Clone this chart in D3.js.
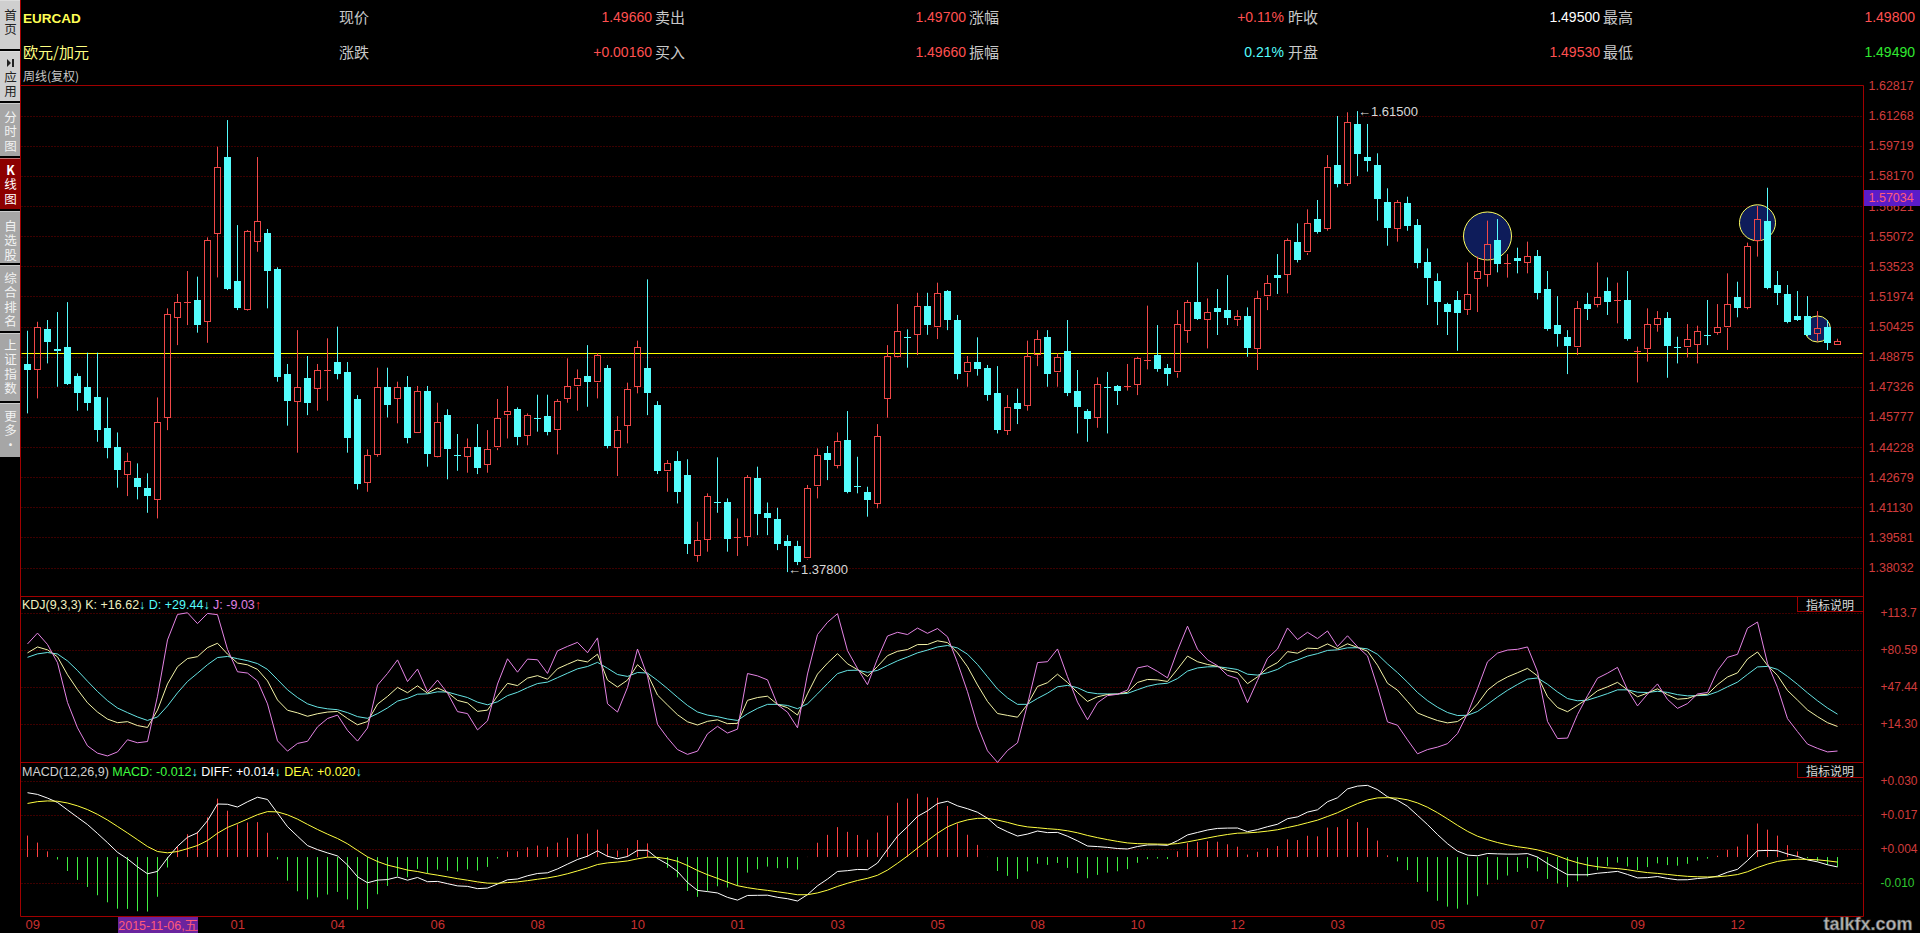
<!DOCTYPE html>
<html><head><meta charset="utf-8">
<script src="https://cdn.jsdelivr.net/npm/d3@7"></script>
<style>
html,body{margin:0;padding:0;background:#000;overflow:hidden}
svg{display:block}
.num{font-family:"Liberation Sans",Arial,sans-serif}
.cjk{font-family:"Noto Sans CJK SC",sans-serif}
</style></head><body>
<svg id="c" width="1920" height="933"></svg>
<script>
// ---------------- data: weekly EURCAD candles ----------------
const open=[
1.4850,1.4822,1.5028,1.4927,1.4935,1.4788,1.4731,1.4678,1.4519,1.4421,
1.4282,1.4262,1.4212,1.4154,1.4575,1.5090,1.5162,1.5179,1.5069,1.5521,
1.5914,1.5276,1.5131,1.5480,1.5525,1.5338,1.4798,1.4661,1.4779,1.4725,
1.4814,1.4860,1.4809,1.4671,1.4245,1.4385,1.4731,1.4673,1.4731,1.4502,
1.4711,1.4375,1.4587,1.4380,1.4377,1.4423,1.4336,1.4425,1.4591,1.4617,
1.4485,1.4570,1.4582,1.4514,1.4673,1.4738,1.4788,1.4759,1.4827,1.4425,
1.4536,1.4737,
1.4831,1.4639,1.4301,1.4351,1.4279,1.3868,1.3948,1.4138,1.4140,1.3955,
1.3965,1.4262,1.4082,1.4053,1.3941,1.3914,1.3854,1.4224,1.4390,1.4334,
1.4459,1.4222,1.4192,1.4133,1.4673,1.4893,1.4988,1.5002,1.5148,1.5042,
1.5227,1.5076,1.4810,1.4860,1.4831,1.4702,1.4514,1.4651,1.4639,1.4901,
1.4988,1.4810,1.4918,1.4711,1.4608,1.4575,1.4733,1.4737,1.4733,1.4750,
1.4863,1.4894,1.4831,1.4810,1.5024,1.5168,1.5079,1.5136,1.5127,1.5079,
1.5096,1.4930,1.5201,1.5307,1.5312,1.5475,1.5427,1.5595,1.5547,1.5873,
1.5779,1.6084,1.5914,1.5873,1.5681,1.5547,1.5676,1.5564,1.5372,1.5276,
1.5158,1.5179,1.5131,1.5290,1.5312,1.5487,1.5360,1.5393,1.5372,1.5405,
1.5234,1.5050,1.4987,1.4939,1.5158,1.5162,1.5225,1.5172,1.5179,1.4911,
1.4930,1.5054,1.5084,1.4935,1.4939,1.4951,1.5000,1.5012,1.5042,1.5196,
1.5141,1.5487,1.5585,1.5256,1.5210,1.5096,1.5096,1.5012,1.5042,1.4953];
const high=[
1.5021,1.5067,1.5076,1.5117,1.5168,1.4802,1.4908,1.4908,1.4678,1.4498,
1.4394,1.4339,1.4288,1.4678,1.5136,1.5210,1.5328,1.5299,1.5501,1.5967,
1.6104,1.5564,1.5539,1.5914,1.5544,1.5347,1.4850,1.5024,1.4891,1.4850,
1.4982,1.5042,1.4860,1.4690,1.4411,1.4831,1.4831,1.4759,1.4788,1.4737,
1.4737,1.4651,1.4617,1.4490,1.4467,1.4541,1.4510,1.4670,1.4737,1.4627,
1.4596,1.4692,1.4692,1.4670,1.4879,1.4822,1.4947,1.4905,1.4845,1.4582,
1.4754,1.4970,
1.5285,1.4659,1.4356,1.4402,1.4360,1.4039,1.4185,1.4370,1.4159,1.4056,
1.4279,1.4322,1.4138,1.4111,1.3970,1.3941,1.4228,1.4416,1.4428,1.4498,
1.4608,1.4373,1.4219,1.4541,1.4947,1.5158,1.5028,1.5216,1.5216,1.5268,
1.5230,1.5102,1.4891,1.4987,1.4845,1.4839,1.4690,1.4723,1.4970,1.5024,
1.5024,1.4905,1.5076,1.4819,1.4618,1.4781,1.4809,1.4742,1.4850,1.4887,
1.5150,1.5050,1.4850,1.5127,1.5179,1.5372,1.5187,1.5235,1.5307,1.5127,
1.5141,1.5227,1.5307,1.5415,1.5496,1.5573,1.5645,1.5693,1.5924,1.6125,
1.6144,1.6150,1.6084,1.5933,1.5753,1.5693,1.5710,1.5595,1.5444,1.5316,
1.5165,1.5225,1.5372,1.5402,1.5587,1.5595,1.5415,1.5448,1.5479,1.5436,
1.5328,1.5199,1.5024,1.5174,1.5216,1.5372,1.5295,1.5268,1.5328,1.4939,
1.5136,1.5122,1.5117,1.4990,1.5055,1.5047,1.5179,1.5158,1.5316,1.5273,
1.5474,1.5662,1.5756,1.5328,1.5256,1.5225,1.5199,1.5122,1.5076,1.4980];
const low=[
1.4596,1.4673,1.4853,1.4733,1.4742,1.4610,1.4610,1.4450,1.4365,1.4214,
1.4171,1.4154,1.4085,1.4056,1.4510,1.4947,1.5050,1.5011,1.4959,1.5295,
1.5230,1.5127,1.5124,1.5427,1.5136,1.4759,1.4533,1.4394,1.4587,1.4610,
1.4661,1.4771,1.4394,1.4205,1.4193,1.4373,1.4575,1.4545,1.4442,1.4498,
1.4322,1.4370,1.4257,1.4301,1.4291,1.4284,1.4291,1.4407,1.4467,1.4432,
1.4432,1.4502,1.4483,1.4385,1.4651,1.4610,1.4630,1.4673,1.4416,1.4274,
1.4442,1.4699,
1.4587,1.4284,1.4193,1.4133,1.3873,1.3833,1.3885,1.4085,1.3885,1.3863,
1.3914,1.3970,1.3970,1.3893,1.3780,1.3816,1.3845,1.4159,1.4253,1.4313,
1.4185,1.4185,1.4065,1.4108,1.4574,1.4884,1.4831,1.4896,1.5000,1.4978,
1.5024,1.4771,1.4733,1.4790,1.4661,1.4493,1.4485,1.4541,1.4610,1.4839,
1.4733,1.4733,1.4685,1.4493,1.4450,1.4522,1.4493,1.4639,1.4713,1.4690,
1.4822,1.4810,1.4738,1.4779,1.4959,1.5076,1.4930,1.4999,1.5050,1.5045,
1.4887,1.4819,1.5127,1.5210,1.5213,1.5372,1.5410,1.5520,1.5535,1.5758,
1.5765,1.5816,1.5839,1.5587,1.5458,1.5479,1.5535,1.5342,1.5153,1.5050,
1.4999,1.4918,1.5102,1.5117,1.5247,1.5321,1.5294,1.5316,1.5316,1.5182,
1.5021,1.4939,1.4798,1.4896,1.5076,1.5141,1.5102,1.5059,1.4970,1.4755,
1.4862,1.5016,1.4779,1.4853,1.4884,1.4853,1.4947,1.5000,1.4922,1.5090,
1.5131,1.5402,1.5234,1.5153,1.5059,1.5071,1.4994,1.4965,1.4922,1.4949];
const close=[
1.4819,1.5038,1.4959,1.4918,1.4747,1.4702,1.4651,1.4510,1.4414,1.4301,
1.4351,1.4214,1.4171,1.4551,1.5105,1.5168,1.5168,1.5050,1.5487,1.5861,
1.5235,1.5138,1.5533,1.5585,1.5330,1.4781,1.4661,1.4731,1.4651,1.4819,
1.4819,1.4798,1.4471,1.4233,1.4382,1.4731,1.4641,1.4731,1.4471,1.4711,
1.4385,1.4551,1.4414,1.4377,1.4423,1.4313,1.4411,1.4570,1.4608,1.4471,
1.4587,1.4565,1.4502,1.4658,1.4737,1.4776,1.4759,1.4894,1.4425,1.4510,
1.4719,1.4935,
1.4702,1.4301,1.4339,1.4193,1.3924,1.3945,1.4171,1.4133,1.3948,1.3960,
1.4270,1.4077,1.4056,1.3924,1.3916,1.3833,1.4210,1.4380,1.4353,1.4456,
1.4193,1.4216,1.4150,1.4479,1.4891,1.5019,1.4985,1.5148,1.5050,1.5213,
1.5076,1.4798,1.4858,1.4822,1.4690,1.4510,1.4630,1.4620,1.4893,1.4978,
1.4798,1.4884,1.4702,1.4630,1.4565,1.4745,1.4730,1.4713,1.4738,1.4882,
1.4868,1.4822,1.4798,1.5054,1.5168,1.5079,1.5117,1.5117,1.5088,1.5096,
1.4930,1.5187,1.5264,1.5290,1.5487,1.5384,1.5573,1.5527,1.5861,1.5775,
1.6092,1.5928,1.5895,1.5696,1.5547,1.5681,1.5556,1.5371,1.5288,1.5170,
1.5119,1.5110,1.5208,1.5328,1.5467,1.5362,1.5367,1.5376,1.5405,1.5216,
1.5030,1.5002,1.4939,1.5136,1.5131,1.5196,1.5170,1.5179,1.4978,1.4918,
1.5054,1.5084,1.4939,1.4930,1.4977,1.5019,1.4997,1.5038,1.5156,1.5141,
1.5456,1.5593,1.5239,1.5213,1.5067,1.5076,1.4999,1.5036,1.4961,1.4966];

// KDJ(9,3,3) values
const kLine=[78.0,83.3,80.7,74.4,58.4,45.1,33.3,25.0,18.7,15.5,
16.4,12.9,11.2,26.8,50.2,65.6,72.9,74.6,82.7,86.6,
76.9,68.9,67.3,63.2,52.9,35.8,26.6,24.3,21.2,23.5,
25.0,25.5,19.2,13.6,16.5,32.1,39.0,47.1,42.3,48.5,
41.9,46.6,42.6,35.4,33.2,25.6,26.7,39.5,50.7,48.7,
55.4,57.6,54.4,63.8,67.8,71.6,69.9,76.8,53.6,47.4,
53.6,67.4,59.0,40.2,31.3,22.6,16.3,13.4,16.7,18.0,
14.6,14.9,35.5,38.0,39.2,31.8,28.9,22.3,41.3,59.0,
68.8,77.3,68.2,63.0,56.9,65.8,75.5,79.4,81.0,85.4,
85.5,88.8,87.2,78.0,65.6,49.3,34.5,23.7,22.0,20.4,
31.9,47.9,51.3,58.9,51.5,42.5,34.5,38.7,40.7,41.1,
42.7,51.5,54.2,53.8,52.4,63.4,75.1,70.1,67.6,65.9,
62.3,60.4,50.4,56.5,64.5,69.3,79.1,77.7,82.2,81.8,
86.0,81.7,86.1,82.9,79.5,66.9,50.8,44.6,34.5,24.2,
20.6,17.4,15.3,16.5,22.6,32.3,44.6,51.6,56.5,60.2,
64.1,57.4,38.8,29.1,25.3,31.0,37.0,44.1,47.6,51.6,
44.9,38.7,42.0,45.8,40.5,36.5,37.2,40.2,40.9,49.5,
56.4,60.1,72.5,78.8,66.8,57.8,44.3,35.7,26.9,20.9,
15.5,12.1];
const dLine=[74.0,77.1,78.3,77.0,70.8,62.2,52.6,43.4,35.2,28.6,
24.5,20.6,17.5,20.6,30.5,42.2,52.4,59.8,67.4,73.8,
74.8,72.8,71.0,68.4,63.2,54.1,44.9,38.0,32.4,29.4,
27.9,27.1,24.5,20.9,19.4,23.6,28.7,34.8,37.3,41.0,
41.3,43.1,42.9,40.4,38.0,33.9,31.5,34.2,39.7,42.7,
46.9,50.5,51.8,55.8,59.8,63.7,65.8,69.5,64.2,58.6,
56.9,60.4,59.9,53.3,46.0,38.2,30.9,25.1,22.3,20.9,
18.8,17.5,23.5,28.3,31.9,31.9,30.9,28.0,32.4,41.3,
50.5,59.4,62.3,62.5,60.6,62.3,66.7,70.9,74.3,78.0,
80.5,83.3,84.6,82.4,76.8,67.6,56.6,45.6,37.7,31.9,
31.9,37.2,41.9,47.6,48.9,46.8,42.7,41.4,41.2,41.2,
41.7,45.0,48.1,50.0,50.8,55.0,61.7,64.5,65.5,65.6,
64.5,63.1,58.9,58.1,60.2,63.2,68.5,71.6,75.1,77.3,
80.2,80.7,82.5,82.6,81.6,76.7,68.1,60.3,51.7,42.5,
35.2,29.3,24.6,21.9,22.1,25.5,31.9,38.5,44.5,49.7,
54.5,55.5,49.9,43.0,37.1,35.1,35.7,38.5,41.5,44.9,
44.9,42.8,42.5,43.6,42.6,40.6,39.5,39.7,40.1,43.2,
47.6,51.8,58.7,65.4,65.9,63.2,56.9,49.8,42.2,35.1,
28.6,23.1];
const jLine=[86.0,95.7,85.5,69.2,33.6,10.9,-5.3,-11.8,-14.3,-10.7,
0.2,-2.5,-1.4,39.2,89.6,112.4,113.9,104.2,113.3,112.2,
81.1,61.1,59.9,52.8,32.3,-0.8,-10.0,-3.1,-1.2,11.7,
19.2,22.3,8.6,-1.0,10.7,49.1,59.6,71.7,52.3,63.5,
43.1,53.6,42.0,25.4,23.6,9.0,17.1,50.1,72.7,60.7,
72.4,71.8,59.6,79.8,83.8,87.4,78.1,91.4,32.4,25.0,
47.0,81.4,57.2,14.0,1.9,-8.6,-12.9,-10.0,5.5,12.2,
6.2,9.7,59.5,57.4,53.8,31.6,24.9,10.9,59.1,94.4,
105.4,113.1,80.0,64.0,49.5,72.8,93.1,96.4,94.4,100.2,
95.5,99.8,92.4,69.2,43.2,12.7,-9.7,-20.1,-9.4,-2.6,
31.9,69.3,70.1,81.5,56.7,33.9,18.1,33.3,39.7,40.9,
44.7,64.5,66.4,61.4,55.6,80.2,101.9,81.3,71.8,66.5,
57.9,55.0,33.4,53.3,73.1,81.5,100.3,89.9,96.4,90.8,
97.6,83.7,93.3,83.5,75.3,47.3,16.2,13.2,0.1,-12.4,
-8.6,-6.4,-3.3,5.7,23.6,45.9,70.0,77.8,80.5,81.2,
83.3,61.2,16.6,1.3,1.7,22.8,39.6,55.3,59.8,65.0,
44.9,30.5,41.0,50.2,36.3,28.3,32.6,41.2,42.5,62.1,
74.0,76.7,100.1,105.6,68.6,47.0,19.1,7.5,-3.7,-7.5,
-10.7,-9.9];

// MACD(12,26,9) values in pips (1 pip = 0.0001)
const diffPips=[252.8,246.1,231.7,214.5,185.0,156.2,127.7,92.7,56.6,18.7,
-7.2,-38.4,-65.8,-56.3,-3.9,42.2,77.8,95.3,142.9,208.4,
207.4,196.5,217.2,235.1,226.2,172.8,119.4,81.8,45.1,29.2,
16.3,4.4,-31.1,-77.5,-101.1,-90.6,-88.5,-78.7,-90.9,-80.2,
-96.9,-95.7,-104.6,-113.3,-115.2,-124.1,-121.9,-106.1,-89.4,-86.2,
-73.6,-64.6,-61.9,-46.6,-27.8,-9.6,3.4,24.4,3.1,-6.8,
2.2,26.4,26.5,-5.8,-27.9,-56.6,-99.9,-131.0,-135.8,-141.1,
-158.4,-169.2,-150.9,-150.3,-149.8,-158.3,-163.7,-172.7,-147.7,-112.9,
-86.5,-56.6,-53.5,-48.7,-49.6,-23.5,30.1,82.0,119.0,159.6,
181.8,210.1,219.0,201.3,189.9,176.0,152.5,118.0,99.2,82.5,
90.3,102.2,96.0,96.9,81.9,63.6,43.3,41.2,37.9,33.5,
31.7,41.4,47.5,48.0,46.0,64.3,87.0,96.7,106.3,112.5,
113.8,114.1,99.8,107.9,119.3,128.9,150.7,157.8,176.6,185.7,
217.4,232.9,267.7,278.8,281.7,264.9,236.8,222.8,199.3,163.8,
127.6,88.3,52.5,23.1,7.6,5.0,14.0,12.5,11.6,11.5,
13.6,0.0,-25.5,-47.5,-69.2,-69.7,-69.7,-63.7,-60.3,-56.2,
-68.4,-82.0,-80.8,-76.6,-84.0,-89.5,-89.1,-84.4,-81.5,-75.0,
-59.7,-48.2,-13.5,24.7,26.1,24.9,12.0,2.4,-11.2,-18.8,
-30.5,-38.9];
const deaPips=[210.6,217.7,220.5,219.3,212.4,201.2,186.5,167.7,145.5,120.2,
94.6,68.1,41.3,21.8,16.6,21.7,32.9,45.4,64.9,93.6,
116.3,132.3,149.3,166.5,178.5,177.4,165.8,149.0,128.2,108.4,
90.0,72.9,52.1,26.2,0.8,-17.5,-31.7,-41.1,-51.1,-56.9,
-64.9,-71.1,-77.8,-84.9,-91.0,-97.6,-102.5,-103.2,-100.4,-97.6,
-92.8,-87.2,-82.1,-75.0,-65.6,-54.4,-42.8,-29.4,-22.9,-19.7,
-15.3,-7.0,-0.3,-1.4,-6.7,-16.7,-33.3,-52.8,-69.4,-83.7,
-98.6,-112.7,-120.3,-126.3,-131.0,-136.5,-141.9,-148.1,-148.0,-141.0,
-130.1,-115.4,-103.0,-92.1,-83.6,-71.6,-51.3,-24.6,4.1,35.2,
64.5,93.6,118.7,135.2,146.1,152.1,152.2,145.4,136.2,125.5,
118.5,115.2,111.4,108.5,103.2,95.3,84.9,76.2,68.5,61.5,
55.5,52.7,51.7,51.0,50.0,52.9,59.7,67.1,74.9,82.4,
88.7,93.8,95.0,97.6,101.9,107.3,116.0,124.4,134.8,145.0,
159.5,174.2,192.9,210.1,224.4,232.5,233.4,231.3,224.9,212.7,
195.7,174.2,149.9,124.5,101.1,81.9,68.3,57.1,48.0,40.7,
35.3,28.2,17.5,4.5,-10.2,-22.1,-31.6,-38.0,-42.5,-45.2,
-49.8,-56.2,-61.1,-64.2,-68.2,-72.5,-75.8,-77.5,-78.3,-77.6,
-74.0,-68.8,-57.7,-41.2,-27.7,-17.2,-11.4,-8.6,-9.1,-11.0,
-14.9,-19.7];
const macdPips=[84.4,56.8,22.4,-9.6,-54.8,-89.9,-117.6,-150.1,-177.9,-202.9,
-203.7,-213.0,-214.2,-156.1,-41.0,41.0,89.7,99.8,155.9,229.6,
182.1,128.3,135.8,137.2,95.4,-9.2,-92.8,-134.4,-166.2,-158.4,
-147.4,-137.0,-166.4,-207.4,-203.8,-146.2,-113.6,-75.2,-79.6,-46.6,
-64.0,-49.2,-53.6,-56.8,-48.4,-53.0,-38.8,-5.8,22.0,22.8,
38.4,45.2,40.4,56.8,75.6,89.6,92.4,107.6,52.0,25.8,
35.0,66.8,53.6,-8.8,-42.4,-79.8,-133.2,-156.4,-132.8,-114.8,
-119.6,-113.0,-61.2,-48.0,-37.6,-43.6,-43.6,-49.2,0.6,56.2,
87.2,117.6,99.0,86.8,68.0,96.2,162.8,213.2,229.8,248.8,
234.6,233.0,200.6,132.2,87.6,47.8,0.6,-54.8,-74.0,-86.0,
-56.4,-26.0,-30.8,-23.2,-42.6,-63.4,-83.2,-70.0,-61.2,-56.0,
-47.6,-22.6,-8.4,-6.0,-8.0,22.8,54.6,59.2,62.8,60.2,
50.2,40.6,9.6,20.6,34.8,43.2,69.4,66.8,83.6,81.4,
115.8,117.4,149.6,137.4,114.6,64.8,6.8,-17.0,-51.2,-97.8,
-136.2,-171.8,-194.8,-202.8,-187.0,-153.8,-108.6,-89.2,-72.8,-58.4,
-43.4,-56.4,-86.0,-104.0,-118.0,-95.2,-76.2,-51.4,-35.6,-22.0,
-37.2,-51.6,-39.4,-24.8,-31.6,-34.0,-26.6,-13.8,-6.4,5.2,
28.6,41.2,88.4,131.8,107.6,84.2,46.8,22.0,-4.2,-15.6,
-31.2,-38.4];

const priceTicks=[1.62817,1.61268,1.59719,1.58170,1.56621,1.55072,1.53523,1.51974,1.50425,1.48875,1.47326,1.45777,1.44228,1.42679,1.41130,1.39581,1.38032];
const kdjTicks=[113.7,80.59,47.44,14.30];
const kdjTickLabels=["+113.7","+80.59","+47.44","+14.30"];
const macdTicks=[300,166.7,33.3,-100];
const macdTickLabels=["+0.030","+0.017","+0.004","-0.010"];
const monthIdx=[0,20,30,40,50,60,70,80,90,100,110,120,130,140,150,160,170];
const monthLabels=["09","01","04","06","08","10","01","03","05","08","10","12","03","05","07","09","12"];
const supportLevel=1.4908;
const cursorPrice=1.57034, cursorDate="2015-11-06,五";
const circles=[{i:146,p:1.5508,r:24},{i:173,p:1.5576,r:18},{i:179,p:1.5030,r:13}];
const quoteRow1=[["现价","1.49660","#ff5050"],["卖出","1.49700","#ff5050"],["涨幅","+0.11%","#ff5050"],["昨收","1.49500","#ffffff"],["最高","1.49800","#ff5050"]];
const quoteRow2=[["涨跌","+0.00160","#ff5050"],["买入","1.49660","#ff5050"],["振幅","0.21%","#54fcfc"],["开盘","1.49530","#ff5050"],["最低","1.49490","#30e830"]];

// ---------------- layout ----------------
const svg=d3.select("#c");
const L=20.5, R=1863.5;
const RED="#f04848", CY="#54fcfc", GRID="#7a0000", FRAME="#a00000";
const x=d3.scaleLinear().domain([0,181]).range([27,1837]);
const y=d3.scaleLinear().domain([1.38032,1.62817]).range([567.6,85.5]);
const ky=d3.scaleLinear().domain([14.30,113.7]).range([724,613]);
const my=d3.scaleLinear().domain([-100,300]).range([882.5,780.7]);
const px=v=>Math.round(v)+0.5;

svg.append("rect").attr("width",1920).attr("height",933).attr("fill","#000");

// sidebar (one text per button, characters stacked)
const side=[
 {y0:0,y1:49,bg:"#cfcfcf",fg:"#222",ch:"首页",top:15},
 {y0:51,y1:101,bg:"#cfcfcf",fg:"#222",ch:"应用",top:77,icon:63},
 {y0:103,y1:156,bg:"#a6a6a6",fg:"#f2f2f2",ch:"分时图",top:117},
 {y0:158,y1:209,bg:"#8c0000",fg:"#ffffff",ch:"K线图",top:170},
 {y0:211,y1:263,bg:"#a6a6a6",fg:"#f2f2f2",ch:"自选股",top:226},
 {y0:265,y1:331,bg:"#a6a6a6",fg:"#f2f2f2",ch:"综合排名",top:278},
 {y0:333,y1:401,bg:"#a6a6a6",fg:"#f2f2f2",ch:"上证指数",top:345},
 {y0:403,y1:457,bg:"#a6a6a6",fg:"#f2f2f2",ch:"更多·",top:416}
];
side.forEach(b=>{
  svg.append("rect").attr("x",0).attr("y",b.y0).attr("width",20).attr("height",b.y1-b.y0).attr("fill",b.bg);
  svg.append("line").attr("x1",0).attr("x2",20).attr("y1",b.y0+0.5).attr("y2",b.y0+0.5).attr("stroke","#eee").attr("stroke-opacity",0.5);
  const t=svg.append("text").attr("class","cjk").attr("text-anchor","middle").attr("font-size",12.5).attr("fill",b.fg);
  Array.from(b.ch).forEach((c,k)=>{
    t.append("tspan").attr("x",10.5).attr("y",b.top+k*14.5+4.5)
     .attr("font-weight",c==="K"?"bold":"normal").text(c);
  });
  if(b.icon){
    svg.append("path").attr("d",`M7,${b.icon-4}L11,${b.icon}L7,${b.icon+4}Z`).attr("fill","#222");
    svg.append("rect").attr("x",12).attr("y",b.icon-4).attr("width",2).attr("height",8).attr("fill","#222");
  }
});

// header
svg.append("text").attr("class","num").attr("x",23).attr("y",23).attr("font-size",13.5).attr("font-weight","bold").attr("fill","#ffff55").text("EURCAD");
svg.append("text").attr("class","cjk").attr("x",23).attr("y",58).attr("font-size",15).attr("fill","#ffff80").text("欧元/加元");
svg.append("text").attr("class","cjk").attr("x",23).attr("y",81).attr("font-size",12).attr("fill","#c8c8c8").text("周线(复权)");
const labX=[339,655,969,1288,1603], valR=[652,966,1284,1600,1915];
[[quoteRow1,23],[quoteRow2,58]].forEach(([row,by])=>{
  row.forEach((q,i)=>{
    svg.append("text").attr("class","cjk").attr("x",labX[i]).attr("y",by).attr("font-size",15).attr("fill","#c8c8c8").text(q[0]);
    svg.append("text").attr("class","num").attr("x",valR[i]).attr("y",by-1).attr("text-anchor","end").attr("font-size",14).attr("fill",q[2]).text(q[1]);
  });
});

// frames
const frame=(x1,y1,x2,y2)=>svg.append("line").attr("x1",x1).attr("y1",y1).attr("x2",x2).attr("y2",y2).attr("stroke",FRAME).attr("stroke-width",1);
frame(L,0,L,916.5);
frame(R,85.5,R,916.5);
[85.5,596.5,762.5,916.5].forEach(v=>frame(L,v,R,v));

// gridlines
const dotted=(yy)=>svg.append("line").attr("x1",L+1).attr("x2",R-1).attr("y1",px(yy)).attr("y2",px(yy))
  .attr("stroke",GRID).attr("stroke-dasharray","1,2");
priceTicks.slice(1).forEach(t=>dotted(y(t)));
kdjTicks.forEach(t=>dotted(ky(t)));
macdTicks.forEach(t=>dotted(my(t)));

// axes
const gA=svg.append("g").attr("transform",`translate(${R},0)`)
 .call(d3.axisRight(y).tickValues(priceTicks).tickFormat(d3.format(".5f")).tickSize(0).tickPadding(5));
gA.select(".domain").remove();
gA.selectAll("text").attr("class","num").attr("font-size",12.5).attr("fill","#d03c3c");
const gK=svg.append("g").attr("transform",`translate(${R},0)`)
 .call(d3.axisRight(ky).tickValues(kdjTicks).tickFormat((d,i)=>kdjTickLabels[i]).tickSize(0).tickPadding(17));
gK.select(".domain").remove();
gK.selectAll("text").attr("class","num").attr("font-size",12).attr("fill","#d03c3c");
const gM=svg.append("g").attr("transform",`translate(${R},0)`)
 .call(d3.axisRight(my).tickValues(macdTicks).tickFormat((d,i)=>macdTickLabels[i]).tickSize(0).tickPadding(17));
gM.select(".domain").remove();
gM.selectAll("text").attr("class","num").attr("font-size",12).attr("fill",(d,i)=>macdTickLabels[i][0]==="-"?"#30c830":"#d03c3c");
const gX=svg.append("g").attr("transform",`translate(0,916.5)`)
 .call(d3.axisBottom(x).tickValues(monthIdx).tickFormat((d,i)=>monthLabels[i]).tickSize(0).tickPadding(3));
gX.select(".domain").remove();
gX.selectAll("text").attr("class","num").attr("font-size",13).attr("fill","#c83030").attr("text-anchor","start").attr("dx",(d,i)=>i===0?-2:3);

// circles (behind candles)
circles.forEach(c=>{
  svg.append("circle").attr("cx",x(c.i)+0.5).attr("cy",y(c.p)).attr("r",c.r).attr("fill","#0e1c5a").attr("stroke","#ffff60").attr("stroke-width",1);
});

// support line
svg.append("line").attr("x1",L+1).attr("x2",R-1).attr("y1",px(y(supportLevel))).attr("y2",px(y(supportLevel))).attr("stroke","#ffff00");

// candles
const gC=svg.append("g");
open.forEach((o,i)=>{
  const c=close[i], h=high[i], l=low[i];
  const cx=x(i)+0.5, up=c>=o;
  const col=up?RED:CY;
  const yt=y(Math.max(o,c)), yb=y(Math.min(o,c));
  const bh=yb-yt;
  if(bh<1.5){
    gC.append("line").attr("x1",cx).attr("x2",cx).attr("y1",y(h)).attr("y2",y(l)).attr("stroke",col);
    gC.append("line").attr("x1",cx-3.5).attr("x2",cx+3.5).attr("y1",px(yt)).attr("y2",px(yt)).attr("stroke",col);
    return;
  }
  if(up){
    gC.append("line").attr("x1",cx).attr("x2",cx).attr("y1",y(h)).attr("y2",Math.round(yt)).attr("stroke",col);
    gC.append("line").attr("x1",cx).attr("x2",cx).attr("y1",Math.round(yb)+1).attr("y2",y(l)).attr("stroke",col);
    gC.append("rect").attr("x",cx-3).attr("y",px(yt)).attr("width",6).attr("height",Math.max(1,Math.round(bh))).attr("fill","none").attr("stroke",col);
  }else{
    gC.append("line").attr("x1",cx).attr("x2",cx).attr("y1",y(h)).attr("y2",y(l)).attr("stroke",col);
    gC.append("rect").attr("x",cx-3.5).attr("y",Math.round(yt)).attr("width",7).attr("height",Math.max(1,Math.round(bh))).attr("fill",col);
  }
});

// extreme labels
const hiI=d3.maxIndex(high), loI=d3.minIndex(low);
svg.append("text").attr("class","num").attr("x",x(hiI)+1).attr("y",y(high[hiI])).attr("dominant-baseline","central").attr("font-size",13).attr("fill","#d8d8d8").text("←"+high[hiI].toFixed(5));
svg.append("text").attr("class","num").attr("x",x(loI)+1).attr("y",y(low[loI])-3).attr("dominant-baseline","central").attr("font-size",13).attr("fill","#d8d8d8").text("←"+low[loI].toFixed(5));

// KDJ lines
const lineGen=(sc)=>d3.line().x((d,i)=>x(i)+0.5).y(d=>sc(d));
svg.append("path").datum(dLine).attr("d",lineGen(ky)).attr("fill","none").attr("stroke","#66e4e4");
svg.append("path").datum(kLine).attr("d",lineGen(ky)).attr("fill","none").attr("stroke","#f4f4a8");
svg.append("path").datum(jLine).attr("d",lineGen(ky)).attr("fill","none").attr("stroke","#e484e4");

// MACD
const gB=svg.append("g");
macdPips.forEach((v,i)=>{
  gB.append("line").attr("x1",x(i)+0.5).attr("x2",x(i)+0.5).attr("y1",my(0)).attr("y2",my(v)).attr("stroke",v>=0?"#ff4040":"#40f040");
});
svg.append("path").datum(diffPips).attr("d",lineGen(my)).attr("fill","none").attr("stroke","#ffffff");
svg.append("path").datum(deaPips).attr("d",lineGen(my)).attr("fill","none").attr("stroke","#ffff40");

// indicator titles
function title(yy,parts){
  const t=svg.append("text").attr("class","num").attr("x",22).attr("y",yy).attr("font-size",12.5);
  parts.forEach(p=>t.append("tspan").attr("fill",p[1]).text(p[0]));
}
title(609,[["KDJ(9,3,3) K: +16.62","#f0f0c0"],["↓  ","#54fcfc"],["D: +29.44","#54fcfc"],["↓  ","#54fcfc"],["J: -9.03","#e080e0"],["↑","#ff3030"]]);
title(776,[["MACD(12,26,9) ","#d0d0d0"],["MACD: -0.012","#40ff40"],["↓  ","#54fcfc"],["DIFF: +0.014","#ffffff"],["↓  ","#54fcfc"],["DEA: +0.020","#ffff40"],["↓","#54fcfc"]]);
[596.5,762.5].forEach(yy=>{
  svg.append("rect").attr("x",1797.5).attr("y",yy).attr("width",R-1797.5).attr("height",15).attr("fill","#000").attr("stroke",FRAME);
  svg.append("text").attr("class","cjk").attr("x",1830).attr("y",yy+8).attr("text-anchor","middle").attr("dominant-baseline","central").attr("font-size",12).attr("fill","#d8d8d8").text("指标说明");
});

// cursor price box
const cpy=y(cursorPrice);
svg.append("rect").attr("x",R+0.5).attr("y",Math.round(cpy)-8).attr("width",1920-R).attr("height",16).attr("fill","#5a1cc8");
svg.append("text").attr("class","num").attr("x",R+5).attr("y",cpy).attr("dominant-baseline","central").attr("font-size",12.5).attr("fill","#ff5a7a").text(cursorPrice.toFixed(5));
// cursor date box
svg.append("rect").attr("x",118).attr("y",917).attr("width",80).attr("height",16).attr("fill","#6a249e");
svg.append("text").attr("class","num").attr("x",158).attr("y",925.5).attr("text-anchor","middle").attr("dominant-baseline","central").attr("font-size",12.5).attr("fill","#ff5a7a").text(cursorDate);

// watermark
svg.append("text").attr("class","num").attr("x",1868).attr("y",930).attr("text-anchor","middle").attr("font-size",18).attr("font-weight","bold")
 .attr("fill","#b8b8b8").attr("stroke","#555").attr("stroke-width",0.6).text("talkfx.com");
</script>
</body></html>
